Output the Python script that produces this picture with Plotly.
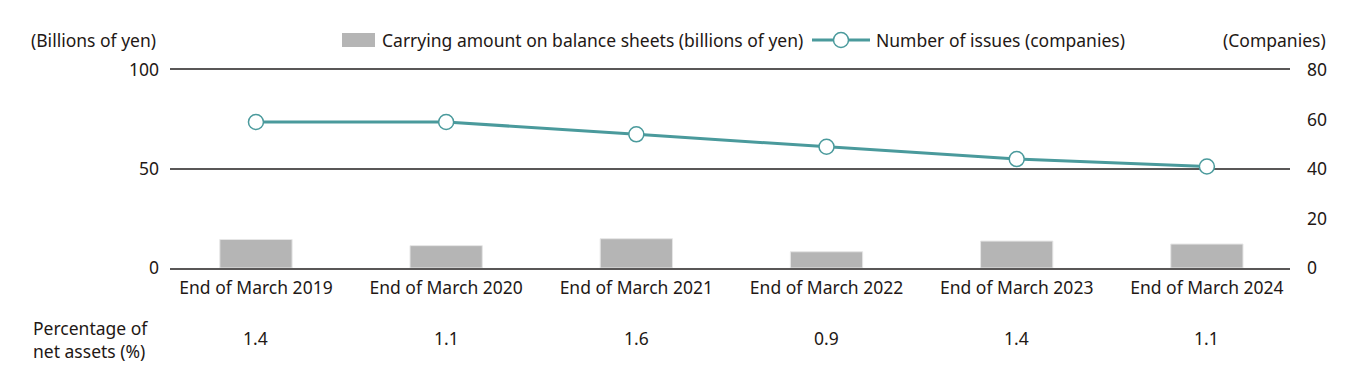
import plotly.graph_objects as go

categories = ["End of March 2019", "End of March 2020", "End of March 2021",
              "End of March 2022", "End of March 2023", "End of March 2024"]
carrying_amount = [14.4, 11.3, 14.8, 8.2, 13.6, 12.1]
num_issues = [59, 59, 54, 49, 44, 41]
pct_net_assets = ["1.4", "1.1", "1.6", "0.9", "1.4", "1.1"]
left_ticks = [0, 50, 100]
right_ticks = [0, 20, 40, 60, 80]
bar_name = "Carrying amount on balance sheets (billions of yen)"
line_name = "Number of issues (companies)"

FONT = "Noto Sans"
FS = 17.5
TXT = "#231815"
TEAL = "#4a9a9c"
BARC = "#b5b5b5"
GRID = "#595757"

OFF = 8  # page body margin in the browser
L, R, T, B = 170 - OFF, 70 + OFF, 70 - OFF, 122 + OFF
W, H = 1360, 390
PW, PH = W - L - R, H - T - B


def px(x):
    # screen pixel x -> paper coordinate
    return (x - OFF - L) / PW


def py(y):
    # screen pixel y -> paper coordinate
    return (H - B - (y - OFF)) / PH


x_idx = list(range(len(categories)))

fig = go.Figure()
fig.add_trace(go.Bar(
    x=x_idx, y=carrying_amount, name=bar_name,
    marker=dict(color=BARC, line=dict(color="#e6e6e6", width=1)),
    width=0.38, yaxis="y", showlegend=False,
))
fig.add_trace(go.Scatter(
    x=x_idx, y=num_issues, name=line_name,
    mode="lines+markers", yaxis="y2", showlegend=False,
    line=dict(color=TEAL, width=3),
    marker=dict(size=15, color="white", line=dict(color=TEAL, width=1.5)),
))

ly = py(40)
annotations = [
    dict(text="(Billions of yen)", xref="paper", yref="paper", x=px(158), y=ly,
         xanchor="right", yanchor="middle", showarrow=False, font=dict(size=FS, color=TXT)),
    dict(text="(Companies)", xref="paper", yref="paper", x=px(1328), y=ly,
         xanchor="right", yanchor="middle", showarrow=False, font=dict(size=FS, color=TXT)),
    dict(text=bar_name, xref="paper", yref="paper", x=px(380), y=ly,
         xanchor="left", yanchor="middle", showarrow=False, font=dict(size=FS, color=TXT)),
    dict(text=line_name, xref="paper", yref="paper", x=px(874), y=ly,
         xanchor="left", yanchor="middle", showarrow=False, font=dict(size=FS, color=TXT)),
    dict(text="Percentage of<br>net assets (%)", xref="paper", yref="paper", x=px(31), y=py(339),
         xanchor="left", yanchor="middle", align="left", showarrow=False,
         font=dict(size=FS, color=TXT)),
]
for i, p in enumerate(pct_net_assets):
    annotations.append(dict(text=p, xref="x", yref="paper", x=i, y=py(338),
                            xanchor="center", yanchor="middle", showarrow=False,
                            font=dict(size=FS, color=TXT)))

shapes = [
    dict(type="rect", xref="paper", yref="paper", x0=px(342), x1=px(375),
         y0=py(47), y1=py(33), fillcolor=BARC, line=dict(width=0)),
    dict(type="line", xref="paper", yref="paper", x0=px(812), x1=px(870),
         y0=ly, y1=ly, line=dict(color=TEAL, width=3)),
    dict(type="circle", xref="paper", yref="paper", xsizemode="pixel", ysizemode="pixel",
         xanchor=px(841), yanchor=ly, x0=-7.5, x1=7.5, y0=-7.5, y1=7.5,
         fillcolor="white", line=dict(color=TEAL, width=1.5)),
]

fig.update_layout(
    width=W, height=H,
    margin=dict(l=L, r=R, t=T, b=B, autoexpand=False),
    paper_bgcolor="white", plot_bgcolor="white",
    font=dict(family=FONT, size=FS, color=TXT),
    showlegend=False,
    xaxis=dict(range=[-0.452, 5.437], tickmode="array", tickvals=x_idx, ticktext=categories,
               showgrid=False, zeroline=False, showline=True, mirror=True,
               linecolor=GRID, linewidth=1.5, ticks="", ticklabelstandoff=3,
               tickfont=dict(size=FS, color=TXT)),
    yaxis=dict(range=[0, 100], tickvals=left_ticks, showgrid=True, gridcolor=GRID,
               gridwidth=1.5, zeroline=False, showline=False, ticks="",
               ticklabelstandoff=10, tickfont=dict(size=FS, color=TXT)),
    yaxis2=dict(range=[0, 80], tickvals=right_ticks, overlaying="y", side="right",
                showgrid=False, zeroline=False, showline=False, ticks="",
                ticklabelstandoff=16, tickfont=dict(size=FS, color=TXT)),
    annotations=annotations,
    shapes=shapes,
)

fig.write_html("out.html")
